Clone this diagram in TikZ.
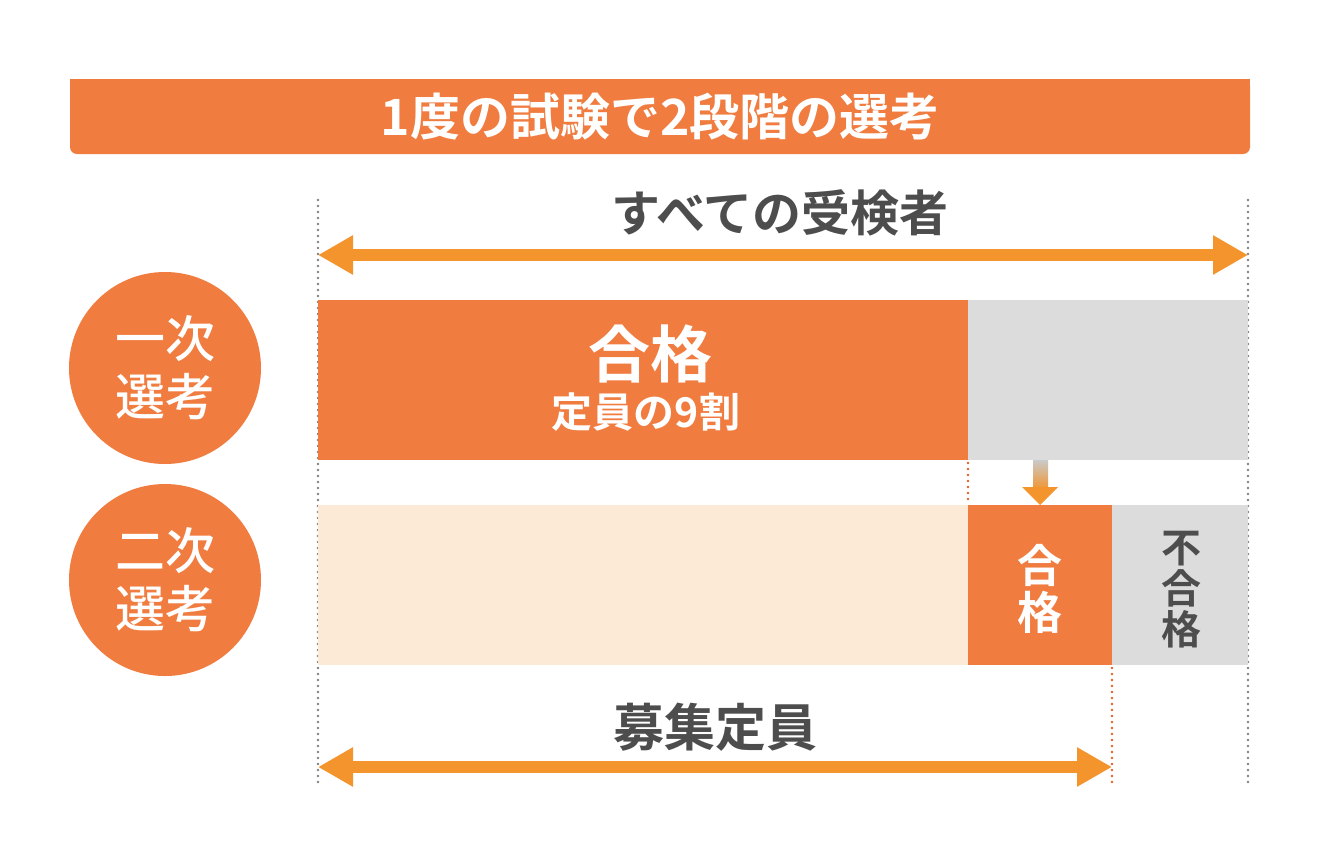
\documentclass[tikz,border=0pt]{standalone}
\usepackage{fontspec}
\newfontfamily\jp{Noto Sans CJK JP Bold}
\newfontfamily\jpm{Noto Sans CJK JP Medium}
\usetikzlibrary{arrows.meta,shapes.geometric}
\definecolor{mainor}{HTML}{F07C40}
\definecolor{arrowor}{HTML}{F3942C}
\definecolor{lgray}{HTML}{DCDCDC}
\definecolor{peach}{HTML}{FDEAD6}
\definecolor{dgray}{HTML}{4D4D4D}
\definecolor{dotgray}{HTML}{808080}
\definecolor{dotor}{HTML}{E0602A}
\newcommand{\fs}[1]{\fontsize{#1}{#1}\selectfont}
\begin{document}
\begin{tikzpicture}[x=1pt,y=-1pt,
  boxnode/.style={anchor=north west,inner sep=0pt,outer sep=0pt,minimum width=#1},
  bigarrow/.style={line width=12pt,draw=arrowor,{Triangle[length=35pt,width=37pt]}-{Triangle[length=35pt,width=37pt]}},
  gdots/.style={draw=dotgray,line width=2.8pt,dash pattern=on 0pt off 6pt,line cap=round},
  odots/.style={draw=dotor,line width=2.8pt,dash pattern=on 0pt off 6pt,line cap=round},
  circ/.style={circle,fill=mainor,minimum size=192pt,inner sep=0pt,text=white,align=center,font=\jpm\fs{50}},
  wtext/.style={text=white,font=\jp,inner sep=0pt,align=center},
  gtext/.style={text=dgray,font=\jp,inner sep=0pt,align=center}]
\useasboundingbox[fill=white] (0,0) rectangle (1321,865);
% banner
\node[boxnode=1180pt,minimum height=75pt,fill=mainor,rounded corners=7pt] (banner) at (70,79) {};
\fill[mainor] (70,79) rectangle (1250,120);
\node[wtext,font=\jp\fs{50}] (title) at (660,117) {1度の試験で2段階の選考};
% dotted guides
\coordinate (gl1) at (318,200); \coordinate (gl2) at (318,785);
\coordinate (gr1) at (1248,200); \coordinate (gr2) at (1248,785);
\draw[gdots] (gl1) -- (gl2);
\draw[gdots] (gr1) -- (gr2);
% top label + arrow
\node[gtext,font=\jp\fs{49}] (all) at (780,213) {すべての受検者};
\coordinate (ta1) at (318,255); \coordinate (ta2) at (1248,255);
\draw[bigarrow] (ta1) -- (ta2);
% row 1
\node[boxnode=650pt,minimum height=160pt,fill=mainor] (r1a) at (318,300) {};
\node[boxnode=280pt,minimum height=160pt,fill=lgray] (r1b) at (968,300) {};
\node[wtext,font=\jp\fs{62}] (pass1) at (650,354) {合格};
\node[wtext,font=\jp\fs{41}] (quota9) at (646,412) {定員の9割};
% row 2
\node[boxnode=650pt,minimum height=160pt,fill=peach] (r2a) at (318,505) {};
\node[boxnode=144pt,minimum height=160pt,fill=mainor] (r2b) at (968,505) {};
\node[boxnode=136pt,minimum height=160pt,fill=lgray] (r2c) at (1112,505) {};
\node[wtext,font=\jp\fs{45}] (pass2) at (1040,589) {合\\[2pt]格};
\node[gtext,font=\jp\fs{40}] (fail) at (1181,590) {不\\[1pt]合\\[1pt]格};
% dotted orange lines
\coordinate (od1) at (968,463); \coordinate (od2) at (968,503);
\draw[odots] (od1) -- (od2);
\coordinate (od3) at (1112,668); \coordinate (od4) at (1112,782);
\draw[odots] (od3) -- (od4);
% small arrow with gradient shaft
\shade[top color=lgray!80!gray,bottom color=arrowor] (1033,460) rectangle (1048,490);
\coordinate (sa1) at (1022,487); \coordinate (sa2) at (1058,487); \coordinate (sa3) at (1040,505);
\fill[arrowor] (sa1) -- (sa2) -- (sa3) -- cycle;
% bottom label + arrow
\node[gtext,font=\jp\fs{51}] (quota) at (715,727) {募集定員};
\coordinate (ba1) at (318,767); \coordinate (ba2) at (1112,767);
\draw[bigarrow] (ba1) -- (ba2);
% circles
\node[circ] (c1) at (165,368) {一次\\[8pt]選考};
\node[circ] (c2) at (165,580) {二次\\[8pt]選考};
\end{tikzpicture}
\end{document}
